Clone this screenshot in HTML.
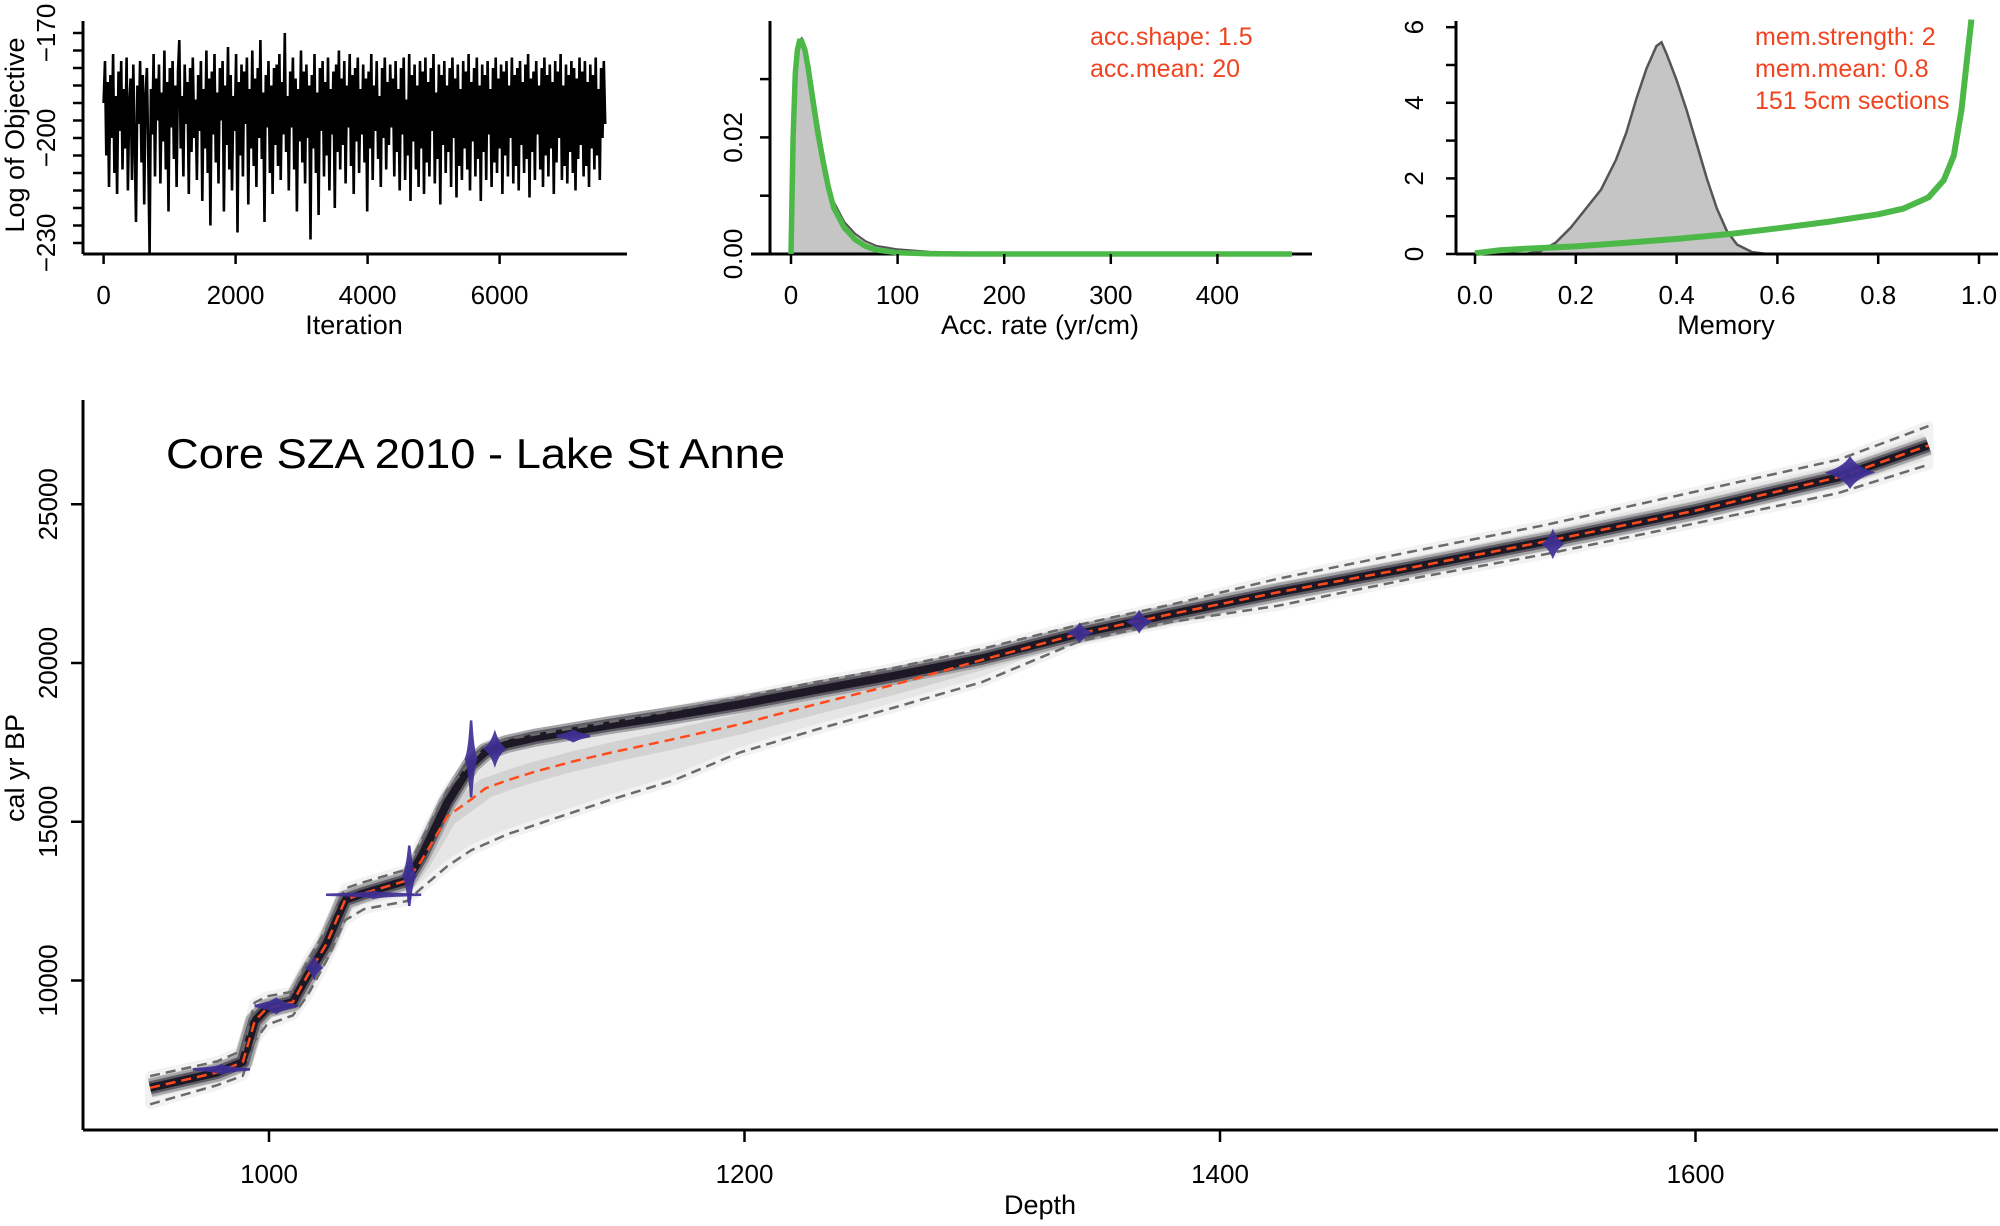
<!DOCTYPE html>
<html><head><meta charset="utf-8"><style>
html,body{margin:0;padding:0;background:#fff}
svg text{font-family:"Liberation Sans",sans-serif;fill:#000}
</style></head><body>
<svg id="chart" width="2000" height="1221" viewBox="0 0 2000 1221" xmlns="http://www.w3.org/2000/svg">
<g id="p1"></g>
<g id="p2"></g>
<g id="p3"></g>
<g id="pm"></g>
</svg>
<script>
// ---------- data ----------
const traceValues = [-190,-178,-205,-184,-214,-182,-200,-176,-210,-188,-216,-181,-198,-178,-209,-186,-203,-177,-215,-190,-183,-212,-179,-201,-224,-185,-196,-178,-207,-182,-219,-188,-180,-204,-233,-186,-199,-176,-211,-183,-195,-179,-213,-187,-201,-175,-209,-184,-221,-180,-197,-178,-206,-185,-214,-181,-172,-203,-188,-211,-179,-196,-184,-216,-180,-204,-177,-200,-189,-212,-182,-198,-178,-218,-186,-203,-175,-210,-183,-225,-181,-199,-176,-207,-187,-213,-180,-195,-178,-221,-185,-202,-174,-209,-182,-215,-188,-198,-176,-227,-184,-205,-179,-211,-181,-196,-177,-219,-186,-203,-175,-208,-183,-214,-180,-200,-172,-206,-187,-224,-182,-197,-178,-210,-185,-216,-180,-202,-179,-208,-176,-212,-184,-199,-170,-204,-188,-215,-181,-197,-177,-209,-183,-221,-186,-201,-175,-207,-181,-213,-179,-200,-185,-229,-182,-203,-176,-210,-187,-222,-180,-198,-178,-211,-184,-205,-177,-215,-186,-199,-181,-220,-179,-204,-175,-209,-183,-202,-178,-213,-185,-197,-176,-208,-182,-216,-180,-201,-177,-210,-186,-199,-179,-207,-183,-221,-181,-203,-176,-212,-185,-198,-178,-206,-188,-214,-180,-200,-177,-209,-184,-202,-179,-197,
-183,-211,-178,-204,-186,-215,-180,-199,-177,-212,-189,-205,-176,-218,-182,-201,-179,-209,-185,-214,-178,-203,-181,-216,-177,-207,-184,-211,-180,-198,-176,-213,-187,-206,-179,-219,-182,-202,-178,-210,-185,-204,-180,-214,-177,-200,-183,-217,-179,-208,-186,-212,-178,-203,-181,-209,-176,-215,-184,-201,-180,-211,-177,-206,-185,-218,-179,-204,-182,-212,-178,-199,-186,-214,-180,-207,-177,-210,-183,-203,-179,-216,-181,-205,-178,-211,-185,-200,-177,-213,-182,-208,-180,-215,-178,-202,-184,-210,-179,-206,-176,-217,-183,-204,-181,-212,-178,-199,-185,-209,-180,-214,-177,-205,-182,-211,-179,-203,-184,-216,-178,-207,-181,-200,-176,-212,-185,-208,-179,-213,-182,-204,-178,-210,-180,-215,-183,-206,-177,-202,-181,-211,-178,-208,-184,-214,-179,-203,-182,-209,-177,-205,-186,-212,-180,-200,-178,-196];
const traceMaxIter = 7600;
const iterTicks = [0,2000,4000,6000];
const objTicks = [-170,-175,-180,-185,-190,-195,-200,-205,-210,-215,-220,-225,-230];
const objLabels = [-170,-200,-230];

const accX = [0,2,4,6,8,10,13,16,20,25,30,35,40,50,60,70,80,100,130,170,250,470];
const accPost = [0,0.018,0.029,0.034,0.0365,0.037,0.0355,0.033,0.029,0.023,0.0175,0.0125,0.009,0.0055,0.0035,0.0022,0.0014,0.0008,0.0004,0.0002,0.0001,0];
const accPrior = [0,0.02,0.031,0.035,0.0365,0.0365,0.035,0.032,0.027,0.021,0.016,0.0115,0.008,0.0045,0.0025,0.0013,0.0007,0.0002,0.00005,0,0,0];
const accTicks = [0,100,200,300,400];
const accDensTicks = [0,0.01,0.02,0.03];
const accDensLabels = ["0.00","0.02"];
const accLabelVals = [0,0.02];

const memX = [0.10,0.13,0.16,0.19,0.22,0.25,0.28,0.30,0.32,0.34,0.36,0.37,0.38,0.40,0.42,0.44,0.46,0.48,0.50,0.52,0.55,0.58,0.6,1.0];
const memPost = [0,0.08,0.3,0.7,1.2,1.7,2.5,3.2,4.1,4.9,5.5,5.6,5.3,4.6,3.8,2.9,2.0,1.2,0.6,0.25,0.05,0,0,0];
const memPriorX = [0,0.05,0.1,0.2,0.3,0.4,0.5,0.6,0.7,0.8,0.85,0.9,0.93,0.95,0.965,0.975,0.985];
const memPrior = [0.02,0.1,0.14,0.2,0.3,0.4,0.52,0.68,0.85,1.05,1.2,1.5,1.95,2.6,3.8,5.0,6.2];
const memTicks = [0,0.2,0.4,0.6,0.8,1.0];
const memDensTicks = [0,1,2,3,4,5,6];
const memDensLabels = [0,2,4,6];

const depths = [950,978,989,994,999,1010,1016,1024,1032,1040,1058,1064,1075,1085,1091,1100,1112,1128,1144,1170,1198,1230,1263,1300,1341,1380,1424,1480,1537,1600,1660,1698];
const ageMean = [6620,7100,7430,8720,9120,9320,10130,11130,12540,12750,13150,13760,15170,15700,16050,16300,16580,16900,17180,17600,18070,18700,19320,20100,20930,21550,22220,23000,23830,24800,25850,26850];
const ageMode = [6620,7100,7430,8720,9120,9320,10130,11130,12540,12750,13150,13900,15600,16800,17200,17450,17650,17850,18050,18350,18700,19150,19600,20150,20930,21550,22220,23000,23830,24800,25850,26850];
const ageMax = [6990,7450,7800,9300,9500,9650,10600,11600,12900,13100,13500,14400,16000,16900,17400,17600,17750,17950,18150,18500,18910,19400,19850,20450,21210,21850,22650,23500,24350,25400,26400,27460];
const ageMin = [6100,6700,7000,8100,8600,8900,9500,10600,11900,12250,12500,12900,13600,14100,14300,14600,14900,15300,15700,16300,17180,17900,18600,19400,20690,21300,21800,22650,23430,24400,25350,26250];
const dateDepth = [980,1003,1019,1044,1059,1085,1095,1128,1341,1366,1540,1665];
const dateAge = [7200,9200,10400,12700,13300,16980,17300,17700,20950,21300,23750,26000];
const dateAgeSpread = [120,220,300,90,950,1210,480,160,260,300,380,450];
const dateDepthSpread = [12,9,3,20,2.5,2.2,4,7,4.5,4.5,4,9];
const depthTicks = [1000,1200,1400,1600];
const ageTicks = [10000,15000,20000,25000];

// ---------- helpers ----------
const NS = "http://www.w3.org/2000/svg";
function mk(parent, tag, attrs, text){
  const e = document.createElementNS(NS, tag);
  for (const k in attrs) e.setAttribute(k, attrs[k]);
  if (text !== undefined) e.textContent = text;
  parent.appendChild(e);
  return e;
}
function pts(xs, ys, fx, fy){ return xs.map((v,i)=>fx(v).toFixed(1)+","+fy(ys[i]).toFixed(1)).join(" "); }

// ---------- panel 1 ----------
(function(){
  const g = document.getElementById("p1");
  const fx = v => 103.6 + v*132/2000;
  const fy = v => 33 + (-170 - v)*3.5;
  let e;
  e = mk(g,"polyline",{points: traceValues.map((v,i)=>fx(i*traceMaxIter/(traceValues.length-1)).toFixed(1)+","+fy(v).toFixed(1)).join(" "), fill:"none", stroke:"#000", "stroke-width":2.6});
  
  
  e = mk(g,"line",{x1:83,y1:254,x2:627,y2:254,stroke:"#000","stroke-width":3});
  
  
  e = mk(g,"line",{x1:83,y1:21,x2:83,y2:254,stroke:"#000","stroke-width":3});
  
  
  iterTicks.forEach(t=>{
    mk(g,"line",{x1:fx(t),y1:254,x2:fx(t),y2:264,stroke:"#000","stroke-width":2.5});
    e = mk(g,"text",{x:fx(t),y:304,"font-size":26,"text-anchor":"middle"},t);
    
    
  });
  objTicks.forEach(t=>{ mk(g,"line",{x1:73,y1:fy(t),x2:83,y2:fy(t),stroke:"#000","stroke-width":2.5}); });
  objLabels.forEach(t=>{
    e = mk(g,"text",{x:0,y:0,"font-size":26,"text-anchor":"middle",transform:`translate(55,${fy(t)}) rotate(-90)`},String(t).replace("-","\u2212"));
    
    
  });
  e = mk(g,"text",{x:354,y:334,"font-size":27,"text-anchor":"middle"},"Iteration");
  
  
  e = mk(g,"text",{x:0,y:0,"font-size":27,"text-anchor":"middle",transform:"translate(24,135) rotate(-90)"},"Log of Objective");
  
  
})();

// ---------- panel 2 ----------
(function(){
  const g = document.getElementById("p2");
  const fx = v => 791 + v*1.066;
  const fy = v => 254 - v*5830;
  let e;
  e = mk(g,"polygon",{points: pts(accX,accPost,fx,fy)+` ${fx(470)},254 ${fx(0)},254`, fill:"#c4c5c4", stroke:"#555", "stroke-width":2});
  
  
  e = mk(g,"line",{x1:751,y1:254,x2:1312,y2:254,stroke:"#000","stroke-width":3});
  
  
  e = mk(g,"line",{x1:770,y1:21,x2:770,y2:254,stroke:"#000","stroke-width":3});
  
  
  e = mk(g,"polyline",{points: pts(accX,accPrior,fx,fy), fill:"none", stroke:"#4cb847", "stroke-width":5.5});
  
  
  accTicks.forEach(t=>{
    mk(g,"line",{x1:fx(t),y1:254,x2:fx(t),y2:264,stroke:"#000","stroke-width":2.5});
    e = mk(g,"text",{x:fx(t),y:304,"font-size":26,"text-anchor":"middle"},t);
    
    
  });
  accDensTicks.forEach(t=>{ mk(g,"line",{x1:760,y1:fy(t),x2:770,y2:fy(t),stroke:"#000","stroke-width":2.5}); });
  accLabelVals.forEach((t,i)=>{
    e = mk(g,"text",{x:0,y:0,"font-size":26,"text-anchor":"middle",transform:`translate(742,${fy(t)}) rotate(-90)`},accDensLabels[i]);
    
    
  });
  e = mk(g,"text",{x:1040,y:334,"font-size":27,"text-anchor":"middle"},"Acc. rate (yr/cm)");
  
  
  e = mk(g,"text",{x:1090,y:45,"font-size":25,style:"fill:#f0431f"},"acc.shape:  1.5");
  
  
  e = mk(g,"text",{x:1090,y:77,"font-size":25,style:"fill:#f0431f"},"acc.mean:  20");
  
  
})();

// ---------- panel 3 ----------
(function(){
  const g = document.getElementById("p3");
  const fx = v => 1475 + v*504;
  const fy = v => 254 - v*37.8;
  let e;
  e = mk(g,"polygon",{points: pts(memX,memPost,fx,fy)+` ${fx(1)},254 ${fx(0)},254`, fill:"#c4c5c4", stroke:"#555", "stroke-width":2.5});
  
  
  e = mk(g,"line",{x1:1456,y1:254,x2:1998,y2:254,stroke:"#000","stroke-width":3});
  
  
  e = mk(g,"line",{x1:1456,y1:21,x2:1456,y2:254,stroke:"#000","stroke-width":3});
  
  
  e = mk(g,"polyline",{points: pts(memPriorX,memPrior,fx,fy), fill:"none", stroke:"#4cb847", "stroke-width":6});
  
  
  memTicks.forEach(t=>{
    mk(g,"line",{x1:fx(t),y1:254,x2:fx(t),y2:264,stroke:"#000","stroke-width":2.5});
    e = mk(g,"text",{x:fx(t),y:304,"font-size":26,"text-anchor":"middle"},t.toFixed(1));
    
    
  });
  memDensTicks.forEach(t=>{ mk(g,"line",{x1:1446,y1:fy(t),x2:1456,y2:fy(t),stroke:"#000","stroke-width":2.5}); });
  memDensLabels.forEach(t=>{
    e = mk(g,"text",{x:0,y:0,"font-size":26,"text-anchor":"middle",transform:`translate(1423,${fy(t)}) rotate(-90)`},t);
    
    
  });
  e = mk(g,"text",{x:1726,y:334,"font-size":27,"text-anchor":"middle"},"Memory");
  
  
  [["mem.strength: 2","mem-strength-note",45],["mem.mean: 0.8","mem-mean-note",77],["151 5cm sections","sections-note",109]].forEach(a=>{
    e = mk(g,"text",{x:1755,y:a[2],"font-size":25,style:"fill:#f0431f"},a[0]);
    
    
  });
})();

// ---------- main panel ----------
(function(){
  const g = document.getElementById("pm");
  const fx = d => 269 + (d-1000)*2.3775;
  const fy = a => 663 - (a-20000)*0.03175;
  let e;
  const upper = pts(depths,ageMax,fx,fy);
  const lower = depths.map((d,i)=>fx(d).toFixed(1)+","+fy(ageMin[i]).toFixed(1)).reverse().join(" ");
  e = mk(g,"polygon",{points: upper+" "+lower, fill:"#e6e6e6", stroke:"#f2f2f2","stroke-width":10,"stroke-linejoin":"round"});
  
  
  const meanPts = pts(depths,ageMean,fx,fy);
  const modePts = pts(depths,ageMode,fx,fy);
  mk(g,"polyline",{points: meanPts, fill:"none", stroke:"#d2d2d2","stroke-width":20,"stroke-linejoin":"round"});
  mk(g,"polyline",{points: modePts, fill:"none", stroke:"#a5a5a8","stroke-width":18,"stroke-linejoin":"round"});
  mk(g,"polyline",{points: modePts, fill:"none", stroke:"#5d5a63","stroke-width":13,"stroke-linejoin":"round"});
  e = mk(g,"polyline",{points: modePts, fill:"none", stroke:"#1d1826","stroke-width":8,"stroke-linejoin":"round"});
  
  
  e = mk(g,"polyline",{points: upper, fill:"none", stroke:"#6a6a6a","stroke-width":2.5,"stroke-dasharray":"10 6"});
  
  
  e = mk(g,"polyline",{points: pts(depths,ageMin,fx,fy), fill:"none", stroke:"#6a6a6a","stroke-width":2.5,"stroke-dasharray":"10 6"});
  
  
  e = mk(g,"polyline",{points: meanPts, fill:"none", stroke:"#ff4a1c","stroke-width":2.5,"stroke-dasharray":"10 6"});
  
  
  dateDepth.forEach((d,i)=>{
    const cx = fx(d), cy = fy(dateAge[i]);
    const hx = dateDepthSpread[i]*2.3775, hy = dateAgeSpread[i]*0.03175;
    const bx = Math.min(hx*0.35,6), by = Math.min(hy*0.35,7);
    const p = `M${cx-hx},${cy} Q${cx-bx},${cy-by} ${cx},${cy-hy} Q${cx+bx},${cy-by} ${cx+hx},${cy} Q${cx+bx},${cy+by} ${cx},${cy+hy} Q${cx-bx},${cy+by} ${cx-hx},${cy} Z`;
    const m = mk(g,"path",{d:p, fill:"#3d2f95", stroke:"#3d2f95","stroke-width":2.5, opacity:0.92});
    
    
  });
  e = mk(g,"line",{x1:83,y1:1130,x2:1998,y2:1130,stroke:"#000","stroke-width":3});
  
  
  e = mk(g,"line",{x1:83,y1:400,x2:83,y2:1130,stroke:"#000","stroke-width":3});
  
  
  depthTicks.forEach(t=>{
    mk(g,"line",{x1:fx(t),y1:1130,x2:fx(t),y2:1142,stroke:"#000","stroke-width":2.5});
    e = mk(g,"text",{x:fx(t),y:1183,"font-size":26,"text-anchor":"middle"},t);
    
    
  });
  ageTicks.forEach(t=>{
    mk(g,"line",{x1:71,y1:fy(t),x2:83,y2:fy(t),stroke:"#000","stroke-width":2.5});
    e = mk(g,"text",{x:0,y:0,"font-size":26,"text-anchor":"middle",transform:`translate(57,${fy(t)}) rotate(-90)`},t);
    
    
  });
  e = mk(g,"text",{x:1040,y:1214,"font-size":27,"text-anchor":"middle"},"Depth");
  
  
  e = mk(g,"text",{x:0,y:0,"font-size":27,"text-anchor":"middle",transform:"translate(24,768) rotate(-90)"},"cal yr BP");
  
  
  e = mk(g,"text",{x:166,y:468,"font-size":42,textLength:619,lengthAdjust:"spacingAndGlyphs"},"Core SZA 2010 - Lake St Anne");
  
  
})();
</script>
</body></html>
